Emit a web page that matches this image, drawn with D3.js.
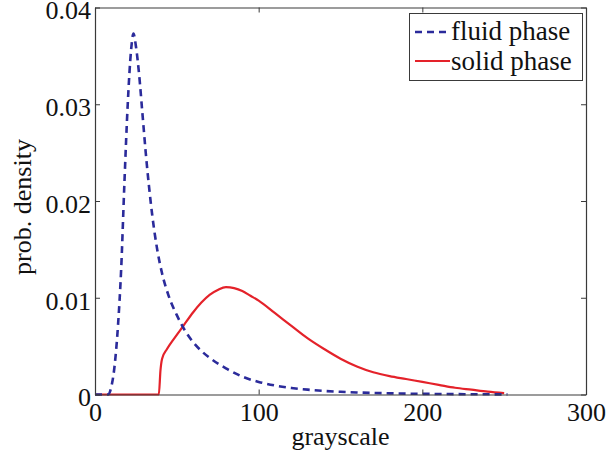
<!DOCTYPE html>
<html>
<head>
<meta charset="utf-8">
<script src="https://cdn.jsdelivr.net/npm/d3@7"></script>
<style>
  html, body { margin: 0; padding: 0; background: #fff; }
  svg { display: block; }
  text { font-family: "Liberation Serif", "Times New Roman", serif; fill: #111; }
</style>
</head>
<body>
<svg id="chart" width="607" height="460"></svg>
<script>
// Grayscale histograms (probability density) of the two phases
const grayLevels = [0, 5, 8, 10, 12, 14, 16, 18, 20, 22, 23.5, 25, 27, 29, 31, 33, 35, 38, 41, 45, 50, 55, 60, 65, 70, 80, 90, 100, 110, 120, 130, 140, 150, 160, 180, 200, 220, 240, 252];
const fluidDensity = [0, 0, 0, 0.0008, 0.003, 0.007, 0.013, 0.022, 0.030, 0.0355, 0.0373, 0.036, 0.033, 0.029, 0.025, 0.0215, 0.0185, 0.015, 0.0125, 0.0102, 0.0082, 0.0066, 0.0054, 0.0045, 0.0038, 0.0027, 0.00185, 0.0013, 0.00093, 0.00068, 0.0005, 0.00037, 0.00028, 0.00021, 0.00012, 0.00007, 0.00004, 0.00002, 0.00001];

const solidLevels = [0, 39, 40, 41, 44, 48, 54, 60, 65, 70, 75, 80, 85, 90, 95, 100, 110, 120, 130, 140, 150, 160, 170, 180, 190, 200, 210, 220, 230, 240, 250];
const solidDensity = [0, 0, 0.0025, 0.0037, 0.0047, 0.0057, 0.0071, 0.0085, 0.0095, 0.0103, 0.0108, 0.0111, 0.0110, 0.0107, 0.0102, 0.0097, 0.0084, 0.0071, 0.0058, 0.0047, 0.0037, 0.0029, 0.0023, 0.0019, 0.0016, 0.0013, 0.0010, 0.0007, 0.0005, 0.0003, 0.00015];

const xTicks = [0, 100, 200, 300];
const yTicks = [0, 0.01, 0.02, 0.03, 0.04];
const yTickLabels = ["0", "0.01", "0.02", "0.03", "0.04"];
const seriesNames = ["fluid phase", "solid phase"];
const xTitle = "grayscale";
const yTitle = "prob. density";

const blue = "#2b2b9b";
const red = "#e4222a";
const axisColor = "#3a3a3a";

const svg = d3.select("#chart");
const x = d3.scaleLinear().domain([0, 300]).range([95, 586]);
const y = d3.scaleLinear().domain([0, 0.04]).range([394.5, 7.5]);

const fontSize = 26;

// Curves
const line = d3.line().x(d => x(d[0])).y(d => y(d[1])).curve(d3.curveMonotoneX);

svg.append("path")
  .datum(solidLevels.map((g, i) => [g, solidDensity[i]]))
  .attr("d", line)
  .attr("fill", "none")
  .attr("stroke", red)
  .attr("stroke-width", 2.2);

svg.append("path")
  .datum(grayLevels.map((g, i) => [g, fluidDensity[i]]))
  .attr("d", line)
  .attr("fill", "none")
  .attr("stroke", blue)
  .attr("stroke-width", 2.6)
  .attr("stroke-dasharray", "7,5");

// Axes box with inward ticks on all sides
const [xLo, xHi] = x.range();
const [yLo, yHi] = y.range();

function styleAxis(g) {
  g.selectAll("path").attr("stroke", axisColor).attr("stroke-width", 1.2);
  g.selectAll("line").attr("stroke", axisColor).attr("stroke-width", 1);
  g.selectAll("text")
    .attr("font-size", fontSize)
    .attr("font-family", "Liberation Serif, Times New Roman, serif")
    .attr("fill", "#111");
}

const axisB = svg.append("g")
  .attr("transform", `translate(0,${yLo})`)
  .call(d3.axisBottom(x).tickValues(xTicks).tickSizeInner(-5).tickSizeOuter(0).tickFormat(d3.format("d")));
styleAxis(axisB);
axisB.selectAll("text").attr("y", 8).attr("dy", "0.71em");

const axisT = svg.append("g")
  .attr("transform", `translate(0,${yHi})`)
  .call(d3.axisTop(x).tickValues(xTicks).tickSizeInner(-5).tickSizeOuter(0).tickFormat(""));
styleAxis(axisT);

const axisL = svg.append("g")
  .attr("transform", `translate(${xLo},0)`)
  .call(d3.axisLeft(y).tickValues(yTicks).tickSizeInner(-5).tickSizeOuter(0)
    .tickFormat((d, i) => yTickLabels[i]));
styleAxis(axisL);
axisL.selectAll("text").attr("x", -4).attr("dy", "0.44em");

const axisR = svg.append("g")
  .attr("transform", `translate(${xHi},0)`)
  .call(d3.axisRight(y).tickValues(yTicks).tickSizeInner(-5).tickSizeOuter(0).tickFormat(""));
styleAxis(axisR);

// Axis titles
svg.append("text")
  .attr("x", (xLo + xHi) / 2)
  .attr("y", 445)
  .attr("text-anchor", "middle")
  .attr("font-size", fontSize)
  .text(xTitle);

svg.append("text")
  .attr("transform", `translate(31,207) rotate(-90)`)
  .attr("text-anchor", "middle")
  .attr("font-size", fontSize)
  .text(yTitle);

// Legend
const legend = svg.append("g");
legend.append("rect")
  .attr("x", 409.5).attr("y", 13.5)
  .attr("width", 173).attr("height", 67)
  .attr("fill", "#fff")
  .attr("stroke", axisColor)
  .attr("stroke-width", 1);

const legendRows = [
  { name: seriesNames[0], color: blue, dash: "7,5", width: 2.4, yLine: 32, yText: 40 },
  { name: seriesNames[1], color: red, dash: null, width: 2, yLine: 61, yText: 70 }
];
legendRows.forEach(r => {
  legend.append("line")
    .attr("x1", 415).attr("x2", 450)
    .attr("y1", r.yLine).attr("y2", r.yLine)
    .attr("stroke", r.color)
    .attr("stroke-width", r.width)
    .attr("stroke-dasharray", r.dash);
  legend.append("text")
    .attr("x", 451)
    .attr("y", r.yText)
    .attr("font-size", 27)
    .text(r.name);
});
</script>
</body>
</html>
